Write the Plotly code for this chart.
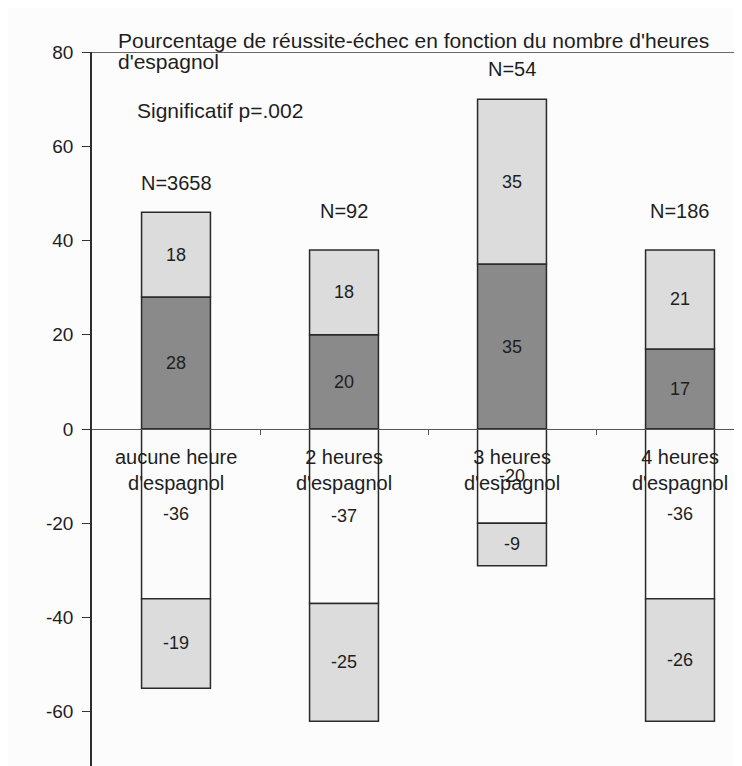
import plotly.graph_objects as go

# ---- data ----
categories = ["aucune heure<br>d'espagnol", "2 heures<br>d'espagnol",
              "3 heures<br>d'espagnol", "4 heures<br>d'espagnol"]
reussite_a = [28, 20, 35, 17]     # dark grey, positive
reussite_b = [18, 18, 35, 21]     # light grey, positive
echec_a = [-36, -37, -20, -36]    # white, negative
echec_b = [-19, -25, -9, -26]     # light grey, negative
n_counts = [3658, 92, 54, 186]
y_ticks = [-60, -40, -20, 0, 20, 40, 60, 80]
title_lines = ["Pourcentage de réussite-échec en fonction du nombre d'heures", "d'espagnol"]
note = "Significatif p=.002"

# ---- style ----
FONT = "Liberation Sans, Arial, sans-serif"
TXT = "#1e1e1e"
EDGE = "#2a2a2a"
Y_MIN, Y_MAX = -71.5, 80
X_MIN, X_MAX = -0.5, 3.369
n_shift = [29, 39, 30, 39]   # pixel offset of N labels above bar tops

fig = go.Figure()
series = [
    (reussite_a, "#8a8a8a"),
    (reussite_b, "#dcdcdc"),
    (echec_a, "#fbfbfb"),
    (echec_b, "#dcdcdc"),
]
for vals, col in series:
    fig.add_trace(go.Bar(
        x=list(range(len(categories))), y=vals,
        text=[str(v) for v in vals],
        textposition="inside", insidetextanchor="middle", textangle=0,
        textfont=dict(family=FONT, size=18, color=TXT),
        marker=dict(color=col, line=dict(color=EDGE, width=1.5)),
        width=0.41, showlegend=False, hoverinfo="skip",
    ))

annotations = []
# category labels just below zero line
for i, c in enumerate(categories):
    annotations.append(dict(x=i, y=0, xref="x", yref="y", text=c, showarrow=False,
                            yanchor="middle", yshift=-41, align="center",
                            font=dict(family=FONT, size=20, color=TXT)))
# N labels above bars
for i, n in enumerate(n_counts):
    top = reussite_a[i] + reussite_b[i]
    annotations.append(dict(x=i, y=top, xref="x", yref="y", text=f"N={n}", showarrow=False,
                            yanchor="middle", yshift=n_shift[i],
                            font=dict(family=FONT, size=20, color=TXT)))
# title lines
annotations.append(dict(x=0.0369, y=1.0168, xref="paper", yref="paper", text=title_lines[0],
                        showarrow=False, xanchor="left", yanchor="middle",
                        font=dict(family=FONT, size=21, color=TXT)))
annotations.append(dict(x=0.0369, y=0.986, xref="paper", yref="paper", text=title_lines[1],
                        showarrow=False, xanchor="left", yanchor="middle",
                        font=dict(family=FONT, size=21, color=TXT)))
annotations.append(dict(x=0.066, y=0.918, xref="paper", yref="paper", text=note,
                        showarrow=False, xanchor="left", yanchor="middle",
                        font=dict(family=FONT, size=21, color=TXT)))

zero_pos = (0 - Y_MIN) / (Y_MAX - Y_MIN)

fig.update_layout(
    width=742, height=766,
    margin=dict(l=84, r=8, t=44, b=8),
    paper_bgcolor="#fcfcfc", plot_bgcolor="#fcfcfc",
    barmode="relative",
    annotations=annotations,
    shapes=[dict(type="line", xref="paper", yref="y", x0=0, x1=1.02, y0=Y_MAX, y1=Y_MAX,
                 line=dict(color="#3a3a3a", width=1.5))],
    xaxis=dict(range=[X_MIN, X_MAX], anchor="free", position=zero_pos,
               showline=True, linecolor="#555555", linewidth=1,
               tickvals=[0.5, 1.5, 2.5], ticks="outside", ticklen=5, tickcolor="#555555",
               showticklabels=False, showgrid=False, zeroline=False, fixedrange=True),
    yaxis=dict(range=[Y_MIN, Y_MAX], tickvals=y_ticks, ticktext=[str(t) for t in y_ticks],
               ticks="outside", ticklen=8, tickcolor="#333333", ticklabelstandoff=5,
               showline=True, linecolor="#2e2e2e", linewidth=1.5,
               showgrid=False, zeroline=False,
               tickfont=dict(family=FONT, size=19, color=TXT), fixedrange=True),
)

fig.write_html("out.html")
